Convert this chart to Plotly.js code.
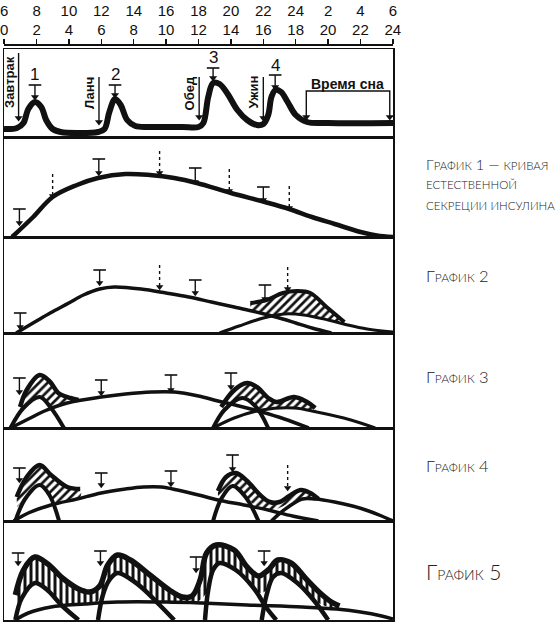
<!DOCTYPE html>
<html><head><meta charset="utf-8">
<script src="https://cdn.plot.ly/plotly-3.0.1.min.js"></script>
<style>html,body{margin:0;padding:0;background:#fff}#chart{width:557px;height:624px}</style>
</head><body><div id="chart"></div>
<script>
// ---------------- DATA ----------------
const hourTicks = [0,2,4,6,8,10,12,14,16,18,20,22,24];
const hourLabels = ['0','2','4','6','8','10','12','14','16','18','20','22','24'];
const clockLabels = ['6','8','10','12','14','16','18','20','22','24','2','4','6'];

// Panel 0: meals / glucose
const mealX = [0,0.8,1.2,1.5,1.9,2.3,2.6,3.0,3.5,4.5,5.8,6.2,6.5,6.85,7.2,7.6,8.1,9,11,12,12.3,12.6,12.9,13.3,13.8,14.4,15.0,15.6,16.0,16.3,16.5,16.75,17.1,17.5,18.0,18.7,20,24];
const mealY = [8,9,14,28,35,30,17,8,5,4,5,8,25,38,32,17,11,10,10,10,14,40,54,53,43,27,17,12,13,22,40,47,45,35,22,15,14,14];
const mealNames = ['Завтрак','Ланч','Обед','Ужин'];
const mealArrowX = [0.9,5.86,12.04,16.0];
const mealArrowTop = [84,60,60,60];
const mealArrowTip = [19,15,20,19];
const mealLabelX = [0.37,5.3,11.5,15.4];
const mealLabelY = [55,44,44,45];
const peakNums = ['1','2','3','4'];
const peakNumX = [1.91,6.85,12.9,16.73];
const peakNumY = [62,62,79,71];
const peakBar = [52,52,69,62];
const peakTip = [40,42,59,50];
const sleepText = 'Время сна';
const sleepTextX = 21.2, sleepTextY = 53;
const sleepBracketX = [18.65,18.65,23.8,23.8];
const sleepBracketY = [20,46,46,20];
const sleepTipX = [18.65,23.8];
const sleepTipY = [20,20];

// Panel 1
const p1X = [0.5,1.8,3.0,4.5,5.8,7.5,9.0,10.5,11.9,14,16.1,17.6,19,20.4,22,23,24];
const p1Y = [0,20,40,52,59,63,62,59,54,44,35,28,20,13,5,1.5,0];
const p1TX = [0.95,5.85,11.8,16.0], p1TBar = [28,78,69,50], p1TTip = [14,64,55,37];
const p1DX = [3.0,9.6,13.9,17.6], p1DTop = [63,86,68,51], p1DTip = [41,64,46,29];

// Panel 2
const p2aX = [0.75,2.0,2.85,4.0,4.9,5.9,6.8,8.45,10,11.4,12.8,14.2,15.3,16.3,17.2,18,19,20.2];
const p2aY = [0,12,20,30,38,44,46,44,40,36,31,26,22,18,14,10,5,0];
const p2bX = [13.3,14.5,16.0,17.3,18.5,20,21.2,22.4,24];
const p2bY = [0,7,15,19,18,13,8,4,1];
const p2hUX = [15.2,16.2,17.2,18.1,18.9,19.9,21.0], p2hUY = [30,33,40,42,40,26,11];
const p2hLX = [15.2,16.0,16.7,17.3,18.5,20,21.0], p2hLY = [22,19,17.5,19,18,13,9];
const p2TX = [1.0,5.9,11.8,16.1], p2TBar = [20,63,53,48], p2TTip = [6,50,40,34];
const p2DX = [9.6,17.5], p2DTop = [68,66], p2DTip = [46,44];

// Panel 3
const p3aX = [0.4,1.5,2.5,3.9,6.0,7.5,9.1,10.5,12,13.2,14.5,15.9,17.3,18.8];
const p3aY = [0,9,17,25,31,34,36,36,32,27,22,16,9,0];
const p3bX = [0.4,1.2,2.2,2.9,3.7], p3bY = [0,20,31,20,0];
const p3cX = [12.9,13.6,14.7,15.5,16.3], p3cY = [0,18,30,22,0];
const p3dX = [12.9,14.2,15.9,17.9,19.3,21.4,22.9], p3dY = [0,10,18,20,16,8,0];
const p3h1UX = [0.99,1.4,2.2,2.85,3.35,4.1,4.6], p3h1UY = [21,38,53,46,35,30,28];
const p3h1LX = [1.0,1.5,2.2,2.8,3.4,4.0,4.6], p3h1LY = [15,24,31,22,22,25,27];
const p3h2UX = [13.4,14.2,15.0,15.6,16.3,16.8,17.9,18.7,19.2], p3h2UY = [21,38,45,41,30,26,31,26,20];
const p3h2LX = [13.4,14.0,14.7,15.3,15.9,17.0,17.9,18.6,19.2], p3h2LY = [12,22,30,24,18,19.5,20,18.5,17];
const p3TX = [0.95,6.0,10.3,14.0], p3TBar = [50,48,53,55], p3TTip = [36,35,38,41];

// Panel 4
const p4aX = [0.6,1.5,2.9,4.5,6.0,7.5,8.6,9.7,10.7,12,13.2,14.8,16.3,17.8,19.4];
const p4aY = [0,8,16,22,28,32,34,34,31,26,21,16,11,5,0];
const p4bX = [0.7,1.3,2.2,2.8,3.4], p4bY = [0,22,36,26,0];
const p4cX = [12.9,13.4,14.1,14.9,15.7], p4cY = [0,22,35,24,0];
const p4dX = [16.5,17.2,18.4,19.2,20.4,21.5,22.5,23.3,24], p4dY = [0,10,22,22,19,15,10,5,0];
const p4h1UX = [0.78,1.4,2.2,2.9,3.9,4.7], p4h1UY = [24,44,56,46,34,32];
const p4h1LX = [0.8,1.4,2.2,2.7,3.2,3.9,4.7], p4h1LY = [14,24,36,28,19,21,24];
const p4h2UX = [13.2,13.7,14.3,15.0,15.8,16.4,17.0,17.6,18.3,18.9,19.4], p4h2UY = [30,44,48,40,26,19,19,25,31,28,22];
const p4h2LX = [13.2,13.7,14.1,14.8,15.3,16.0,16.8,17.5,18.4,19.4], p4h2LY = [18,28,35,27,18,12,12,17,22,21];
const p4TX = [0.95,6.0,10.3,14.1], p4TBar = [53,48,50,66], p4TTip = [41,36,37,52];
const p4DX = [17.5], p4DTop = [56], p4DTip = [33];

// Panel 5
const p5aX = [0.7,1.5,2.9,5,7,10,12.2,15,18.4,20.5,22,23.3,24];
const p5aY = [0,7,13,16,18,18,17,15,13,11,8,4,1];
const p5b1X = [0.7,1.1,1.9,2.6,3.6,4.6], p5b1Y = [0,22,37,31,14,0];
const p5b2X = [5.8,6.1,6.5,7.0,7.8,8.6,9.6,10.5], p5b2Y = [0,25,40,47,41,31,15,0];
const p5b3X = [12.4,12.6,12.9,13.3,14.3,15.4,16.2,16.8], p5b3Y = [0,30,50,57,50,32,12,0];
const p5b4X = [15.9,16.2,16.6,17.1,18.1,19.1,20.0], p5b4Y = [0,25,43,47,37,20,0];
const p5hUX = [0.7,1.2,1.9,2.7,3.6,4.6,5.3,5.9,6.4,7.0,7.8,9.0,10.2,11.0,11.6,12.1,12.5,13.1,14.2,15.0,15.7,16.3,16.9,17.7,18.7,19.5,20.2,20.7];
const p5hUY = [25,50,63,56,42,31,28,34,55,65,60,45,30,23,24,40,67,75,70,53,44,50,60,57,40,27,18,14];
const p5hLX = [0.9,1.3,1.9,2.6,3.5,4.2,5.5,6.0,6.4,7.0,7.8,8.6,9.5,10.5,11.8,12.6,12.9,13.3,14.3,15.4,15.8,16.2,16.6,17.1,18.1,19.1,20.0,20.7];
const p5hLY = [12,28,37,31,17,16,17,22,40,47,41,31,19,18,17,30,50,57,50,32,27,30,43,47,37,20,13,12];
const p5TX = [0.87,5.95,11.85,16.05], p5TBar = [67,69,63,69], p5TTip = [57,57,50,57];

// titles: [big initial, small-caps rest] pieces per line
const panelTitles = [
  [['Г','рафик'],[' 1 — ',''],['','кривая']],
  [['','естественной']],
  [['','секреции инсулина']],
  [['Г','рафик'],[' 2','']],
  [['Г','рафик'],[' 3','']],
  [['Г','рафик'],[' 4','']],
  [['Г','рафик'],[' 5','']]
];

// ---------------- LAYOUT GEOMETRY ----------------
const W = 557, Hh = 624, ML = 4, MR = 164, MT = 0, MB = 4;
const PH = Hh - MT - MB;
const py = p => (PH - (p - MT)) / PH;
const px = p => (p - ML) / (W - ML - MR);
const edges = [49,137,237,333,428,521,620];
const INK = '#111';

const traces = [];
const ax = i => ({x: 'x' + (i + 2), y: 'y' + (i + 2)});

function curve(x, y, i, w) {
  const a = ax(i);
  traces.push({type:'scatter', mode:'lines', x, y, xaxis:a.x, yaxis:a.y,
    line:{color:INK, width:w, shape:'spline', smoothing:1}, hoverinfo:'skip', showlegend:false});
}
function hatch(ux, uy, lx, ly, i, shape, size, sol) {
  const a = ax(i);
  traces.push({type:'scatter', mode:'lines', x: ux.concat(lx.slice().reverse()), y: uy.concat(ly.slice().reverse()),
    xaxis:a.x, yaxis:a.y, fill:'toself', fillcolor:'rgba(0,0,0,0)',
    fillpattern:{shape, size, solidity:sol, fgcolor:INK, bgcolor:'rgba(0,0,0,0)'},
    line:{width:0, shape:'spline'}, hoverinfo:'skip', showlegend:false});
}
function arrows(xs, tops, tips, i, dashed, withBar, headSize) {
  const a = ax(i);
  const lx = [], ly = [];
  xs.forEach((x, k) => { lx.push(x, x, null); ly.push(tops[k], tips[k], null); });
  traces.push({type:'scatter', mode:'lines', x:lx, y:ly, xaxis:a.x, yaxis:a.y,
    line:{color:INK, width:1.4, dash: dashed ? 'dot' : 'solid'}, hoverinfo:'skip', showlegend:false});
  traces.push({type:'scatter', mode:'markers', x:xs, y:tips, xaxis:a.x, yaxis:a.y,
    marker:{symbol:'triangle-down', size:headSize || 6.5, color:INK}, hoverinfo:'skip', showlegend:false});
  if (withBar) {
    traces.push({type:'scatter', mode:'markers', x:xs, y:tops, xaxis:a.x, yaxis:a.y,
      marker:{symbol:'line-ew', size:9, line:{width:1.6, color:INK}}, hoverinfo:'skip', showlegend:false});
  }
}

hatch(p2hUX, p2hUY, p2hLX, p2hLY, 2, '/', 6, 0.45);
hatch(p3h1UX, p3h1UY, p3h1LX, p3h1LY, 3, '/', 6, 0.45);
hatch(p3h2UX, p3h2UY, p3h2LX, p3h2LY, 3, '/', 6, 0.45);
hatch(p4h1UX, p4h1UY, p4h1LX, p4h1LY, 4, '/', 6, 0.45);
hatch(p4h2UX, p4h2UY, p4h2LX, p4h2LY, 4, '/', 6, 0.45);
hatch(p5hUX, p5hUY, p5hLX, p5hLY, 5, '|', 6, 0.5);

curve(mealX, mealY, 0, 6);
arrows(mealArrowX, mealArrowTop, mealArrowTip, 0, false, false, 7);
arrows(peakNumX, peakBar, peakTip, 0, false, true, 7);
traces.push({type:'scatter', mode:'lines', x:sleepBracketX, y:sleepBracketY, xaxis:'x2', yaxis:'y2',
  line:{color:INK, width:1.4}, hoverinfo:'skip', showlegend:false});
traces.push({type:'scatter', mode:'markers', x:sleepTipX, y:sleepTipY, xaxis:'x2', yaxis:'y2',
  marker:{symbol:'triangle-down', size:7, color:INK}, hoverinfo:'skip', showlegend:false});

curve(p1X, p1Y, 1, 4.5);
arrows(p1TX, p1TBar, p1TTip, 1, false, true);
arrows(p1DX, p1DTop, p1DTip, 1, true, false);

curve(p2aX, p2aY, 2, 3.5);
curve(p2bX, p2bY, 2, 3);
curve(p2hUX, p2hUY, 2, 4);
arrows(p2TX, p2TBar, p2TTip, 2, false, true);
arrows(p2DX, p2DTop, p2DTip, 2, true, false);

curve(p3aX, p3aY, 3, 3.5);
curve(p3bX, p3bY, 3, 4);
curve(p3cX, p3cY, 3, 4);
curve(p3dX, p3dY, 3, 3);
curve(p3h1UX, p3h1UY, 3, 4.5);
curve(p3h2UX, p3h2UY, 3, 4.5);
arrows(p3TX, p3TBar, p3TTip, 3, false, true);

curve(p4aX, p4aY, 4, 3.5);
curve(p4bX, p4bY, 4, 4);
curve(p4cX, p4cY, 4, 4);
curve(p4dX, p4dY, 4, 3.5);
curve(p4h1UX, p4h1UY, 4, 4.5);
curve(p4h2UX, p4h2UY, 4, 4.5);
arrows(p4TX, p4TBar, p4TTip, 4, false, true);
arrows(p4DX, p4DTop, p4DTip, 4, true, false);

curve(p5aX, p5aY, 5, 3.5);
curve(p5b1X, p5b1Y, 5, 4.5);
curve(p5b2X, p5b2Y, 5, 4.5);
curve(p5b3X, p5b3Y, 5, 4.5);
curve(p5b4X, p5b4Y, 5, 4.5);
curve(p5hUX, p5hUY, 5, 5.5);
arrows(p5TX, p5TBar, p5TTip, 5, false, true);

traces.push({type:'scatter', mode:'markers', x:[1], y:[1], xaxis:'x', yaxis:'y2', marker:{opacity:0}, hoverinfo:'skip', showlegend:false});
traces.push({type:'scatter', mode:'markers', x:[1], y:[1], xaxis:'x8', yaxis:'y2', marker:{opacity:0}, hoverinfo:'skip', showlegend:false});

const tickFont = {family:'Liberation Sans, Arial, sans-serif', size:15, color:INK};
const layout = {
  width:W, height:Hh, margin:{l:ML, r:MR, t:MT, b:MB, pad:0},
  paper_bgcolor:'#fff', plot_bgcolor:'rgba(0,0,0,0)', showlegend:false,
  xaxis:{anchor:'free', position:py(44), side:'top', range:[-0.01,24.01], tickmode:'array', tickvals:hourTicks, ticktext:hourLabels,
    ticks:'outside', ticklen:5, tickwidth:1.5, tickcolor:INK, showline:true, linewidth:1.5, linecolor:INK,
    ticklabelstandoff:-2, ticklabeloverflow:'allow',
    showgrid:false, zeroline:false, tickfont:tickFont, fixedrange:true},
  xaxis8:{overlaying:'x', anchor:'free', position:py(19), side:'top', range:[-0.01,24.01], tickmode:'array', tickvals:hourTicks, ticktext:clockLabels,
    ticks:'', showline:false, showgrid:false, zeroline:false, tickfont:tickFont, ticklabeloverflow:'allow', fixedrange:true},
  annotations:[]
};
for (let i = 0; i < 6; i++) {
  const n = i + 2;
  layout['xaxis' + n] = {anchor:'y' + n, range:[0,24], showline:true, mirror:true, linewidth:1.5, linecolor:INK,
    ticks:'', showticklabels:false, showgrid:false, zeroline:false, fixedrange:true};
  layout['yaxis' + n] = {anchor:'x' + n, domain:[py(edges[i+1]), py(edges[i])], range:[0, edges[i+1]-edges[i]],
    showline:true, mirror:true, linewidth:1.5, linecolor:INK, ticks:'', showticklabels:false, showgrid:false, zeroline:false, fixedrange:true};
}

mealNames.forEach((t, k) => layout.annotations.push({xref:'x2', yref:'y2', x:mealLabelX[k], y:mealLabelY[k], text:'<b>'+t+'</b>',
  textangle:-90, showarrow:false, font:{family:'Liberation Sans, Arial, sans-serif', size:13, color:INK}}));
peakNums.forEach((t, k) => layout.annotations.push({xref:'x2', yref:'y2', x:peakNumX[k], y:peakNumY[k], text:t,
  showarrow:false, font:{family:'Liberation Sans, Arial, sans-serif', size:17, color:INK}}));
layout.annotations.push({xref:'x2', yref:'y2', x:sleepTextX, y:sleepTextY, text:'<b>'+sleepText+'</b>', showarrow:false,
  font:{family:'Liberation Sans, Arial, sans-serif', size:14, color:INK}});

const titleRows = [[164,14.5,11.5],[184,14.5,11.5],[205,14.5,11.5],[276,16.5,12],[377,16.5,12],[466,16.5,12],[571,21,14]];
panelTitles.forEach((pieces, k) => {
  const [yc, big, small] = titleRows[k];
  const html = pieces.map(([b, s]) => (b ? '<span style="font-size:'+big+'px">'+b+'</span>' : '') +
    (s ? '<span style="font-size:'+small+'px">'+s.toUpperCase()+'</span>' : '')).join('');
  layout.annotations.push({xref:'paper', yref:'paper', x:px(424), y:py(yc), xanchor:'left', yanchor:'middle',
    text:html, showarrow:false, font:{family:'Lato, Noto Sans, sans-serif', size:big, color:'#222', weight:300}});
});

Plotly.newPlot('chart', traces, layout, {staticPlot:true});
</script></body></html>
